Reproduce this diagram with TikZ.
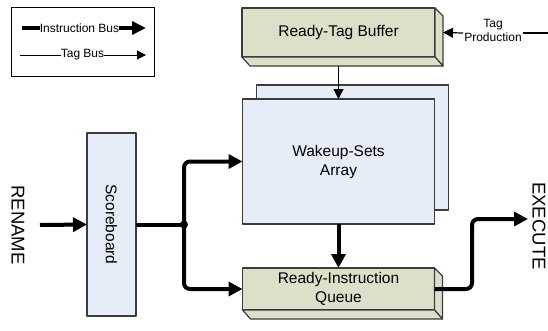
\documentclass[tikz,border=0pt]{standalone}
\usepackage{fontspec}
\setmainfont{Liberation Sans}
\usepackage{tikz}
\usetikzlibrary{arrows.meta, positioning, calc}
\definecolor{tagGreen}{RGB}{221,224,201}
\definecolor{wakeBlue}{RGB}{230,236,248}
\definecolor{edgeGray}{RGB}{60,60,60}
\newcommand{\boxdepth}[1]{%
  \draw[boxline, fill=tagGreen] (#1.north east) -- ++(8,8)
       -- ($(#1.south east)+(8,9)$) -- (#1.south east) -- cycle;
  \draw[boxline, fill=tagGreen] (#1.south west) -- ++(8,9)
       -- ($(#1.south east)+(8,9)$) -- (#1.south east) -- cycle;}

\begin{document}
\begin{tikzpicture}[
  x=1pt, y=-1pt,
  boxline/.style={draw=edgeGray, line width=1.2pt, line join=round},
  blockbox/.style={rectangle, boxline, fill=wakeBlue, inner sep=0pt,
                   outer sep=0pt, align=center,
                   font=\fontsize{15.5}{19}\selectfont},
  bufbox/.style={blockbox, fill=tagGreen},
  ibus/.style={line width=4pt, -{Triangle[length=14pt, width=14pt]}},
  tagbus/.style={line width=1.2pt, -{Triangle[length=10pt, width=10pt]}},
  smalltxt/.style={font=\fontsize{12}{14}\selectfont, inner sep=1pt,
                   align=center},
  sidetxt/.style={font=\fontsize{18.5}{20}\selectfont, rotate=-90,
                  inner sep=0pt}
]
\useasboundingbox (0,0) rectangle (548,330);

% Legend
\node[draw, line width=1pt, minimum width=143pt, minimum height=69pt,
      inner sep=0pt, outer sep=0pt] (legend) at (82.5,41.5) {};
\node[smalltxt, inner sep=0pt] (ibtxt) at (79.5,28) {Instruction Bus};
\node[smalltxt, inner sep=0pt] (tbtxt) at (82.5,55) {Tag Bus};
\coordinate (ibl) at (22,28);
\coordinate (ibr) at (146,28);
\coordinate (tbl) at (20,55);
\coordinate (tbr) at (146,55);
\draw[line width=3.5pt] (ibl) -- (ibtxt.west);
\draw[line width=3.5pt, -{Triangle[length=14pt, width=13pt]}] (ibtxt.east) -- (ibr);
\draw[line width=1pt] (tbl) -- (tbtxt.west);
\draw[line width=1pt, -{Triangle[length=9pt, width=9pt]}] (tbtxt.east) -- (tbr);

% Blocks
\node[bufbox, minimum width=193pt, minimum height=49pt] (rtb) at (338.5,32.5)
  {Ready-Tag Buffer};
\boxdepth{rtb}
\node[blockbox, minimum width=192pt, minimum height=125pt]
  (wsaback) at ($(rtb.south)+(14,90.5)$) {};
\node[blockbox, minimum width=192pt, minimum height=125pt, below=42pt of rtb]
  (wsa) {Wakeup-Sets\\Array};
\node[bufbox, minimum width=192pt, minimum height=42pt, below=44pt of wsa]
  (riq) {Ready-Instruction\\Queue};
\boxdepth{riq}
\node[blockbox, rotate=-90, minimum width=183pt, minimum height=49pt]
  (sb) at (111.5,224.5) {Scoreboard};

% Outside labels
\node[sidetxt] (rename) at (18,225) {RENAME};
\node[sidetxt] (execute) at (539,226) {EXECUTE};
\node[smalltxt] (tagp) at (493,30) {Tag\\Production};
\coordinate (renin) at (40,225);
\coordinate (exout) at (528,219);
\coordinate (tagsrc) at (548,33);
\coordinate (rtbin) at ($(rtb.east)+(8,0)$);
\coordinate (jn) at ($(sb.north)+(48,0)$);

% Buses
\draw[ibus] (renin) -- (sb.south);
\draw[ibus, -] (sb.north) -- (jn);
\fill (jn) circle (4pt);
\draw[ibus, rounded corners=6pt] (jn) |- (wsa.west);
\draw[ibus, rounded corners=6pt] (jn) |- (riq.west);
\draw[ibus] (wsa.south) -- (riq.north);
\draw[ibus, rounded corners=6pt] (riq.east) -| ([xshift=-56pt]exout) -- (exout);
\draw[line width=1.2pt] (tagsrc) -- (tagsrc -| tagp.east);
\draw[tagbus] (tagp.west |- tagsrc) -- (rtbin);
\draw[tagbus] ($(rtb.south)+(0,9)$) -- (wsa.north);
\end{tikzpicture}
\end{document}
